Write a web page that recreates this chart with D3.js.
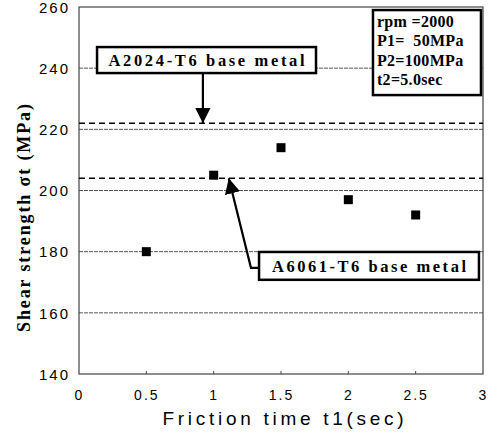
<!DOCTYPE html>
<html><head><meta charset="utf-8">
<script src="https://cdn.jsdelivr.net/npm/d3@7"></script>
<style>body{margin:0;background:#fff}svg{display:block}</style>
</head><body>
<svg id="chart" width="495" height="434"></svg>
<script>
// ---- data ----
const frictionTime = [0.5, 1.0, 1.5, 2.0, 2.5];
const shearStrength = [180, 205, 214, 197, 192];
const baseMetalNames = ["A2024-T6 base metal", "A6061-T6 base metal"];
const baseMetalValues = [222, 204];
const xTicks = [0, 0.5, 1, 1.5, 2, 2.5, 3];
const yTicks = [140, 160, 180, 200, 220, 240, 260];
const conditions = ["rpm =2000", "P1=  50MPa", "P2=100MPa", "t2=5.0sec"];

const svg = d3.select("#chart");
const L = 79, R = 483, T = 7, B = 374;
const x = d3.scaleLinear().domain([0, 3]).range([L, R]);
const y = d3.scaleLinear().domain([140, 260]).range([B, T]);

const defs = svg.append("defs");
defs.append("marker").attr("id", "ah").attr("viewBox", "0 0 10 10")
  .attr("refX", 10).attr("refY", 5).attr("markerWidth", 7).attr("markerHeight", 7)
  .attr("markerUnits", "strokeWidth").attr("orient", "auto")
  .append("path").attr("d", "M0,0 L10,5 L0,10 Z").attr("fill", "#000");

// gridlines
svg.append("g").selectAll("line").data(yTicks.filter(v => v > 140 && v < 260)).join("line")
  .attr("x1", L).attr("x2", R).attr("y1", d => y(d)).attr("y2", d => y(d))
  .attr("stroke", "#555").attr("stroke-width", 1).attr("stroke-dasharray", "4,1");

// frame
svg.append("rect").attr("x", L).attr("y", T).attr("width", R - L).attr("height", B - T)
  .attr("fill", "none").attr("stroke", "#444").attr("stroke-width", 1.2);

// x axis ticks + labels
const xAxis = d3.axisBottom(x).tickValues(xTicks).tickSize(0).tickPadding(0)
  .tickFormat(d => String(d));
const gx = svg.append("g").attr("transform", `translate(0,${B})`).call(xAxis);
gx.select(".domain").remove();
gx.selectAll("text").attr("y", 26).attr("dy", 0)
  .attr("font-family", "Liberation Sans, Arial, sans-serif").attr("font-size", 14)
  .attr("letter-spacing", "2px").attr("fill", "#000");
svg.append("g").selectAll("line").data(xTicks.slice(1, -1)).join("line")
  .attr("x1", d => x(d)).attr("x2", d => x(d)).attr("y1", B).attr("y2", B - 3)
  .attr("stroke", "#444");

// y axis labels
const yAxis = d3.axisLeft(y).tickValues(yTicks).tickSize(0).tickPadding(0);
const gy = svg.append("g").attr("transform", `translate(${L},0)`).call(yAxis);
gy.select(".domain").remove();
gy.selectAll("text").attr("x", -9).attr("dy", "0.35em")
  .attr("font-family", "Liberation Sans, Arial, sans-serif").attr("font-size", 15)
  .attr("letter-spacing", "2px").attr("fill", "#000");

// axis titles
svg.append("text").attr("x", 283).attr("y", 425).attr("text-anchor", "middle")
  .attr("font-family", "Liberation Sans, Arial, sans-serif").attr("font-size", 19)
  .attr("textLength", 241).attr("lengthAdjust", "spacing")
  .text("Friction time t1(sec)");
svg.append("text").attr("transform", "translate(30,218) rotate(-90)").attr("text-anchor", "middle")
  .attr("font-family", "Liberation Serif, Times New Roman, serif").attr("font-size", 18)
  .attr("font-weight", "bold").attr("textLength", 228).attr("lengthAdjust", "spacing")
  .text("Shear strength σt (MPa)");

// base metal dashed lines
svg.append("g").selectAll("line").data(baseMetalValues).join("line")
  .attr("x1", L).attr("x2", R).attr("y1", d => y(d)).attr("y2", d => y(d))
  .attr("stroke", "#000").attr("stroke-width", 1.6).attr("stroke-dasharray", "6,4");

// data points
svg.append("g").selectAll("rect").data(frictionTime.map((t, i) => [t, shearStrength[i]])).join("rect")
  .attr("x", d => x(d[0]) - 4.5).attr("y", d => y(d[1]) - 4.5)
  .attr("width", 9).attr("height", 9).attr("fill", "#000");

// annotation boxes (data coords)
const serif = "Liberation Serif, Times New Roman, serif";
function labelBox(x0, x1, y0, y1, text, tl) {
  svg.append("rect").attr("x", x(x0)).attr("y", y(y0)).attr("width", x(x1) - x(x0))
    .attr("height", y(y1) - y(y0)).attr("fill", "#fff").attr("stroke", "#000").attr("stroke-width", 2.5);
  svg.append("text").attr("x", (x(x0) + x(x1)) / 2).attr("y", (y(y0) + y(y1)) / 2 + 6)
    .attr("text-anchor", "middle").attr("font-family", serif).attr("font-weight", "bold")
    .attr("font-size", 16.5).attr("textLength", tl).attr("lengthAdjust", "spacing").text(text);
}
// A2024 arrow
svg.append("line").attr("x1", x(0.92)).attr("x2", x(0.92)).attr("y1", y(239)).attr("y2", y(baseMetalValues[0]))
  .attr("stroke", "#000").attr("stroke-width", 2.2).attr("marker-end", "url(#ah)");
labelBox(0.134, 1.76, 246.9, 238.4, baseMetalNames[0], 196);
// A6061 arrow
svg.append("path")
  .attr("d", `M${x(1.34)},${y(174.7)} L${x(1.277)},${y(174.7)} L${x(1.112)},${y(baseMetalValues[1])}`)
  .attr("fill", "none").attr("stroke", "#000").attr("stroke-width", 2.2).attr("marker-end", "url(#ah)");
labelBox(1.337, 2.97, 179.9, 170.8, baseMetalNames[1], 194);

// conditions box
svg.append("rect").attr("x", x(2.183)).attr("y", y(259)).attr("width", x(2.985) - x(2.183))
  .attr("height", y(231.2) - y(259)).attr("fill", "#fff").attr("stroke", "#000").attr("stroke-width", 2.5);
svg.append("g").selectAll("text").data(conditions).join("text")
  .attr("x", x(2.183) + 4).attr("y", (d, i) => y(259) + 17 + i * 19.3)
  .attr("font-family", serif).attr("font-weight", "bold").attr("font-size", 16)
  .attr("letter-spacing", "0.3px").attr("xml:space", "preserve").style("white-space", "pre")
  .text(d => d);
</script>
</body></html>
